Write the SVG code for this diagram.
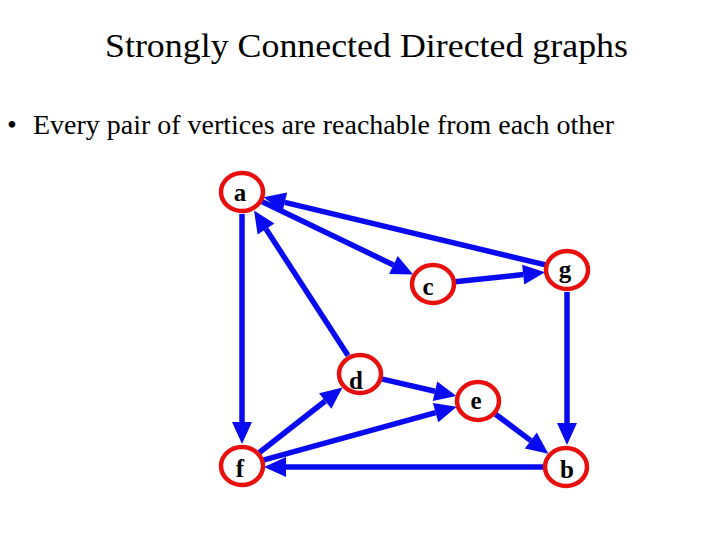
<svg xmlns="http://www.w3.org/2000/svg" width="720" height="540" viewBox="0 0 720 540">
<style>
.t{font-family:"Liberation Serif","Times New Roman",serif;fill:#000}
.n ellipse{fill:#fff;stroke:#e8100e;stroke-width:4.5}
.n text{font-family:"Liberation Serif","Times New Roman",serif;font-weight:bold;font-size:25px;text-anchor:middle;fill:#000}
.e line{stroke:#0a0af0;stroke-width:5.5;marker-end:url(#ah)}
</style>
<defs>
<marker id="ah" markerUnits="userSpaceOnUse" markerWidth="24" markerHeight="22" refX="0" refY="10" orient="auto" overflow="visible">
<path d="M0,0 L22,10 L0,20 z" fill="#0a0af0"/>
</marker>
</defs>
<rect width="720" height="540" fill="#fff"/>
<text class="t" x="105" y="57" font-size="34" textLength="523" lengthAdjust="spacingAndGlyphs">Strongly Connected Directed graphs</text>
<text class="t" x="7" y="134" font-size="28">•</text>
<text class="t" x="33" y="134" font-size="28" textLength="581" lengthAdjust="spacingAndGlyphs">Every pair of vertices are reachable from each other</text>
<g id="edges" class="e">
<line x1="242" y1="214" x2="242" y2="422"/>
<line x1="261.8" y1="201.5" x2="393.4" y2="264.9"/>
<line x1="545.6" y1="264.9" x2="284.8" y2="202.3"/>
<line x1="348" y1="355.5" x2="266" y2="229"/>
<line x1="454.9" y1="281.7" x2="523.2" y2="274.6"/>
<line x1="567" y1="292" x2="567" y2="423"/>
<line x1="381.4" y1="378.9" x2="435" y2="391.2"/>
<line x1="495.6" y1="414.2" x2="530.8" y2="440.6"/>
<line x1="259.4" y1="452.5" x2="325.2" y2="401"/>
<line x1="263.2" y1="460.2" x2="435.6" y2="412.6"/>
<line x1="544" y1="467" x2="286" y2="467"/>
</g>
<g id="a" class="n"><ellipse cx="242" cy="192" rx="21" ry="19"/><text x="240" y="201">a</text></g>
<g id="c" class="n"><ellipse cx="433" cy="284" rx="21" ry="19"/><text x="428" y="295">c</text></g>
<g id="g" class="n"><ellipse cx="567" cy="270" rx="21" ry="19"/><text x="565" y="278">g</text></g>
<g id="d" class="n"><ellipse cx="360" cy="374" rx="21" ry="19"/><text x="356" y="389">d</text></g>
<g id="e" class="n"><ellipse cx="478" cy="401" rx="21" ry="19"/><text x="476" y="409">e</text></g>
<g id="f" class="n"><ellipse cx="242" cy="466" rx="21" ry="19"/><text x="240" y="477">f</text></g>
<g id="b" class="n"><ellipse cx="566" cy="467" rx="21" ry="19"/><text x="567" y="478">b</text></g>
</svg>
